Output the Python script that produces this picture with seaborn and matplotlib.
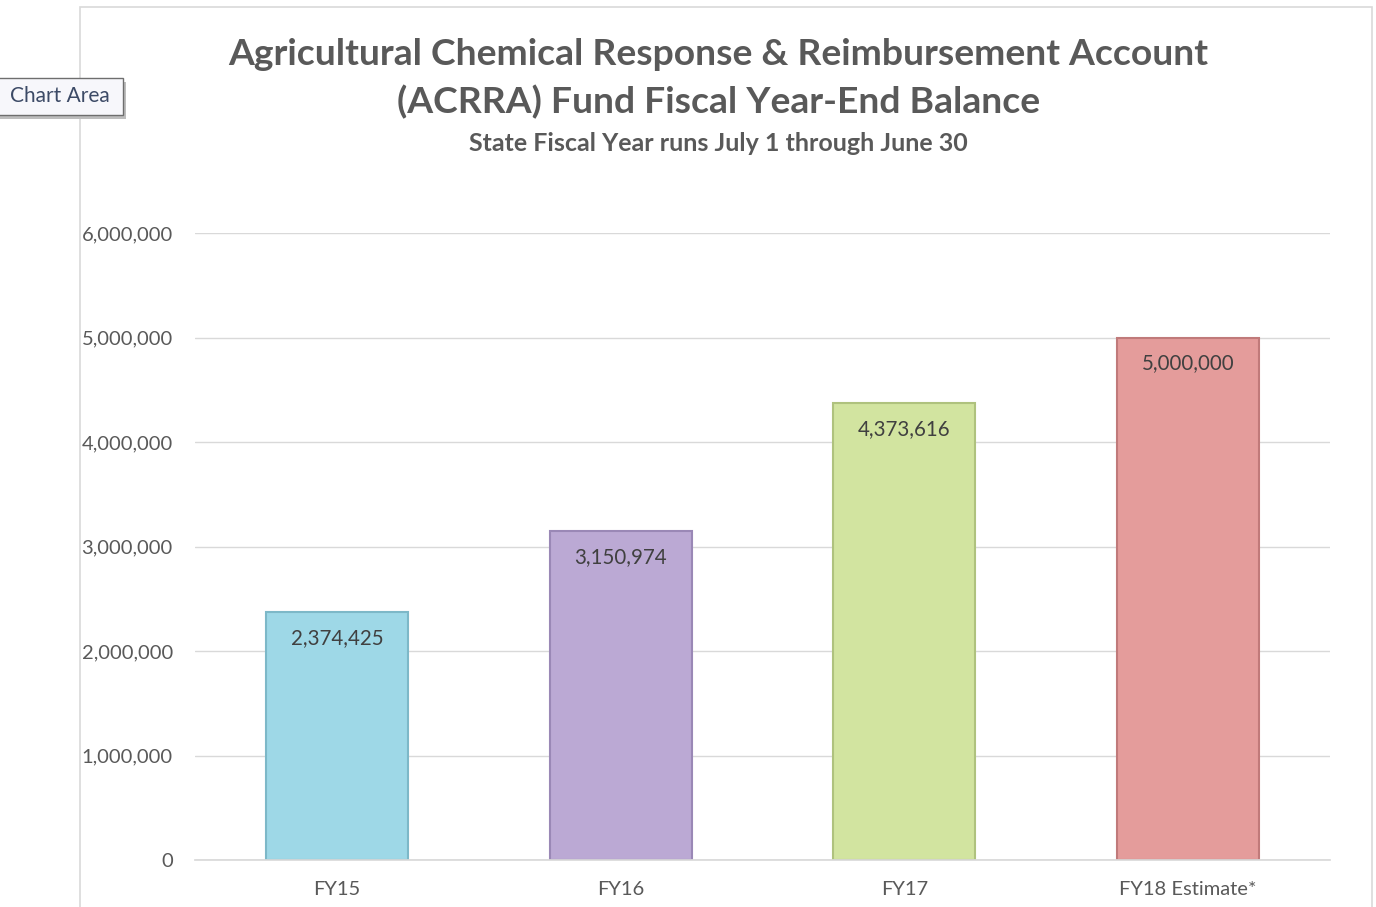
import matplotlib
matplotlib.use("Agg")
import matplotlib.pyplot as plt
import seaborn as sns
import pandas as pd
from matplotlib.patches import Rectangle
from matplotlib.ticker import FuncFormatter

# ---- data ----
years = ["FY15", "FY16", "FY17", "FY18 Estimate*"]
balances = [2374425, 3150974, 4373616, 5000000]
bar_colors = ["#9ED8E7", "#BBA9D4", "#D2E4A0", "#E49C9B"]
edge_colors = ["#7DB8C8", "#9A88B6", "#AFC27E", "#C07A7A"]

df = pd.DataFrame({"year": years, "balance": balances})

sns.set_theme(style="white")
plt.rcParams["font.family"] = ["Lato", "DejaVu Sans"]

fig = plt.figure(figsize=(13.76, 9.07), dpi=100)
ax = fig.add_axes([0.1417, 0.0518, 0.8249, 0.6913])

sns.barplot(data=df, x="year", y="balance", hue="year", palette=bar_colors,
            width=0.5, legend=False, ax=ax, saturation=1)

for patch, ec in zip(ax.patches, edge_colors):
    patch.set_edgecolor(ec)
    patch.set_linewidth(1.5)

for i, v in enumerate(balances):
    ax.annotate(f"{v:,}", xy=(i, v), xytext=(0, -26), textcoords="offset pixels",
                ha="center", va="center", fontsize=14.8, color="#404040")

ax.set_ylim(0, 6000000)
ax.set_xlim(-0.5, 3.5)
ax.set_yticks(range(0, 6000001, 1000000))
ax.yaxis.set_major_formatter(FuncFormatter(lambda x, p: f"{int(x):,}"))
ax.grid(axis="y", color="#D9D9D9", linewidth=1)
ax.set_axisbelow(True)
for s in ["top", "right", "left"]:
    ax.spines[s].set_visible(False)
ax.spines["bottom"].set_color("#D9D9D9")
ax.tick_params(axis="both", length=0, labelsize=14.5, colors="#595959")
ax.tick_params(axis="x", pad=15)
ax.tick_params(axis="y", pad=16)
ax.set_xlabel("")
ax.set_ylabel("")

# titles
fig.text(0.522, 0.940, "Agricultural Chemical Response & Reimbursement Account",
         ha="center", va="center", fontsize=26.8, fontweight="bold", color="#595959")
fig.text(0.522, 0.887, "(ACRRA) Fund Fiscal Year-End Balance",
         ha="center", va="center", fontsize=26.8, fontweight="bold", color="#595959")
fig.text(0.522, 0.842, "State Fiscal Year runs July 1 through June 30",
         ha="center", va="center", fontsize=18, fontweight="bold", color="#595959")

# chart area border
fig.patches.append(Rectangle((80 / 1376, -0.01), 1292 / 1376, 1 - 7 / 907 + 0.01,
                             transform=fig.transFigure, fill=False,
                             edgecolor="#D9D9D9", linewidth=1.2))

# tooltip box (left edge runs off the canvas)
fig.patches.append(Rectangle((-10 / 1376, 1 - 119 / 907), 136 / 1376, 37 / 907,
                             transform=fig.transFigure, facecolor="#BDBDBD",
                             edgecolor="none"))
fig.patches.append(Rectangle((-13 / 1376, 1 - 115 / 907), 136 / 1376, 37 / 907,
                             transform=fig.transFigure, facecolor="#F7F7FB",
                             edgecolor="#6E6E6E", linewidth=1))
fig.text(10 / 1376, 1 - 96 / 907, "Chart Area", ha="left", va="center",
         fontsize=15, color="#3C4A66")

fig.savefig("out.png", dpi=100)
